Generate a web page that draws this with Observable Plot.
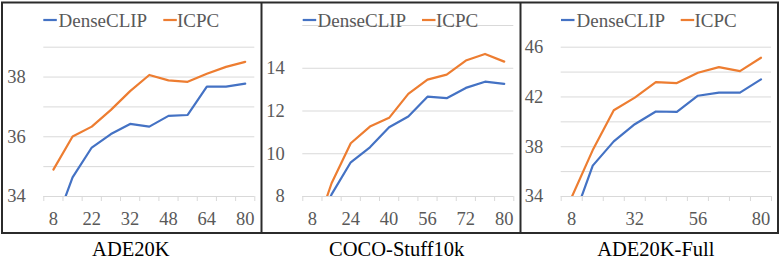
<!DOCTYPE html>
<html>
<head>
<meta charset="utf-8">
<script src="https://cdn.jsdelivr.net/npm/d3@7"></script>
<script src="https://cdn.jsdelivr.net/npm/@observablehq/plot@0.6"></script>
<style>
  html, body { margin: 0; padding: 0; background: #fff; }
  #wrap { position: relative; width: 781px; height: 260px; overflow: hidden; font-family: "Liberation Serif", "Times New Roman", serif; }
  .panel { position: absolute; top: 0; }
  #overlay { position: absolute; left: 0; top: 0; pointer-events: none; }
</style>
</head>
<body>
<div id="wrap"></div>
<script>
// ---- Data ----
const series = ["DenseCLIP", "ICPC"];
const seriesColors = ["#4472C4", "#ED7D31"];

const titles = ["ADE20K", "COCO-Stuff10k", "ADE20K-Full"];

const adeCats = [8, 16, 22, 28, 32, 40, 48, 56, 64, 72, 80];
const adeTickLabels = [8, 22, 32, 48, 64, 80];
const adeDense = [32.9, 34.64, 35.64, 36.09, 36.43, 36.34, 36.7, 36.73, 37.68, 37.68, 37.78];
const adeIcpc = [34.9, 36.01, 36.34, 36.9, 37.53, 38.07, 37.89, 37.84, 38.11, 38.34, 38.51];
const adeYTicks = [34, 36, 38];
const adeGrid = [35, 36, 37, 38, 39];

const cocoCats = [8, 16, 24, 32, 40, 48, 56, 64, 72, 76, 80];
const cocoTickLabels = [8, 24, 40, 56, 72, 80];
const cocoDense = [6.0, 8.1, 9.6, 10.3, 11.24, 11.74, 12.67, 12.6, 13.08, 13.37, 13.27];
const cocoIcpc = [6.0, 8.62, 10.49, 11.27, 11.68, 12.8, 13.47, 13.7, 14.36, 14.67, 14.31];
const cocoYTicks = [8, 10, 12, 14];
const cocoGrid = [10, 12, 14, 16];

const fullCats = [8, 16, 24, 32, 40, 48, 56, 64, 72, 80];
const fullTickLabels = [8, 32, 56, 80];
const fullDense = [31.8, 36.48, 38.43, 39.81, 40.83, 40.8, 42.1, 42.35, 42.35, 43.41];
const fullIcpc = [33.95, 37.73, 40.93, 41.95, 43.2, 43.12, 43.95, 44.4, 44.08, 45.15];
const fullYTicks = [34, 38, 42, 46];
const fullGrid = [36, 38, 40, 42, 44, 46];

// ---- Layout ----
const panels = [
  {left: 0, width: 260, ml: 43.3, mr: 5.7, mt: 46.7, yDomain: [34, 39], cats: adeCats, ticks: adeTickLabels, dense: adeDense, icpc: adeIcpc, yTicks: adeYTicks, grid: adeGrid,
   legend: {l1: 43.3, t1: 58.5, l2: 163.3, t2: 177}, titleX: 130.8},
  {left: 260, width: 260, ml: 42.3, mr: 6.7, mt: 25, yDomain: [8, 16], cats: cocoCats, ticks: cocoTickLabels, dense: cocoDense, icpc: cocoIcpc, yTicks: cocoYTicks, grid: cocoGrid,
   legend: {l1: 302.7, t1: 317.5, l2: 422, t2: 436}, titleX: 396.7},
  {left: 520, width: 261, ml: 40.7, mr: 10, mt: 46.7, yDomain: [34, 46], cats: fullCats, ticks: fullTickLabels, dense: fullDense, icpc: fullIcpc, yTicks: fullYTicks, grid: fullGrid,
   legend: {l1: 561, t1: 576.5, l2: 680.7, t2: 694.5}, titleX: 655.8}
];

const wrap = document.getElementById("wrap");

panels.forEach((p) => {
  const n = p.cats.length;
  const data = p.cats.flatMap((c, i) => [
    {i: i + 1, v: p.dense[i], s: series[0]},
    {i: i + 1, v: p.icpc[i], s: series[1]}
  ]);
  const bounds = d3.range(0, n + 1).map((k) => k + 0.5);
  const labelIdx = p.cats.map((c, i) => i + 1).filter((i) => p.ticks.includes(p.cats[i - 1]));
  const chart = Plot.plot({
    width: p.width,
    height: 234,
    marginLeft: p.ml,
    marginRight: p.mr,
    marginTop: p.mt,
    marginBottom: 38,
    style: {fontFamily: "'Liberation Serif', 'Times New Roman', serif", fontSize: "18.5px", color: "#595959", background: "transparent", overflow: "visible"},
    x: {type: "linear", domain: [0.5, n + 0.5]},
    y: {domain: p.yDomain},
    color: {domain: series, range: seriesColors},
    marks: [
      Plot.ruleY(p.grid, {stroke: "#d9d9d9", strokeWidth: 1}),
      Plot.ruleY([p.yDomain[0]], {stroke: "#d9d9d9", strokeWidth: 1}),
      Plot.axisX({ticks: bounds, tickSize: 5, tickFormat: () => "", stroke: "#d9d9d9", label: null}),
      Plot.axisX({ticks: labelIdx, tickSize: 0, tickPadding: 15, tickFormat: (i) => String(p.cats[i - 1]), label: null, fill: "#595959"}),
      Plot.axisY({ticks: p.yTicks, tickSize: 0, tickPadding: 18, tickFormat: (d) => String(d), label: null, fill: "#595959"}),
      Plot.lineY(data, {x: "i", y: "v", stroke: "s", strokeWidth: 2.2, clip: true})
    ]
  });
  chart.classList.add("panel");
  chart.style.left = p.left + "px";
  wrap.appendChild(chart);
});

// ---- Overlay: legends, frame, titles ----
const svg = d3.select(wrap).append("svg")
  .attr("id", "overlay").attr("width", 781).attr("height", 260);

panels.forEach((p, k) => {
  const lg = p.legend;
  [[lg.l1, lg.t1, 0], [lg.l2, lg.t2, 1]].forEach(([lx, tx, si]) => {
    svg.append("line").attr("x1", lx).attr("x2", lx + 13.5).attr("y1", 20).attr("y2", 20)
      .attr("stroke", seriesColors[si]).attr("stroke-width", 2.2);
    svg.append("text").attr("x", tx).attr("y", 26.5)
      .attr("font-family", "'Liberation Serif', 'Times New Roman', serif")
      .attr("font-size", 19).attr("fill", "#595959").text(series[si]);
  });
  svg.append("text").attr("x", p.titleX).attr("y", 255.5)
    .attr("text-anchor", "middle")
    .attr("font-family", "'Liberation Serif', 'Times New Roman', serif")
    .attr("font-size", 20.5).attr("fill", "#000").text(titles[k]);
});

// frame
svg.append("rect").attr("x", 2).attr("y", 2.5).attr("width", 776).attr("height", 230.5)
  .attr("fill", "none").attr("stroke", "#2b2b2b").attr("stroke-width", 2);
[261.5, 520.5].forEach((x) => {
  svg.append("line").attr("x1", x).attr("x2", x).attr("y1", 2.5).attr("y2", 233)
    .attr("stroke", "#2b2b2b").attr("stroke-width", 2);
});
</script>
</body>
</html>
